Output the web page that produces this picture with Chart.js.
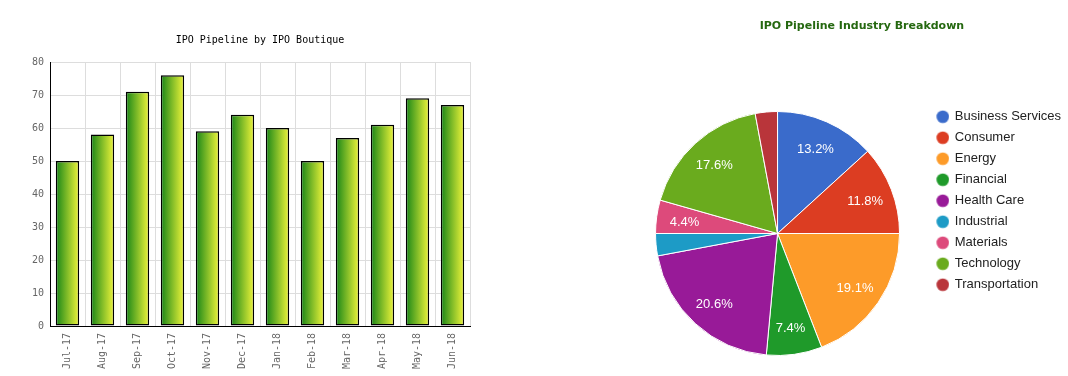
<!DOCTYPE html>
<html>
<head>
<meta charset="utf-8">
<script src="https://cdn.jsdelivr.net/npm/chart.js@4.4.1/dist/chart.umd.min.js"></script>
<style>
html, body { margin: 0; padding: 0; background: #fff; }
body { width: 1068px; height: 376px; overflow: hidden; position: relative; }
#barWrap { position: absolute; left: 0; top: 0; width: 520px; height: 376px; }
#pieWrap { position: absolute; left: 640px; top: 0; width: 431px; height: 376px; }
</style>
</head>
<body>
<div id="barWrap"><canvas id="bar"></canvas></div>
<div id="pieWrap"><canvas id="pie"></canvas></div>
<script>
// ---- data ----
const months = ['Jul-17', 'Aug-17', 'Sep-17', 'Oct-17', 'Nov-17', 'Dec-17', 'Jan-18', 'Feb-18', 'Mar-18', 'Apr-18', 'May-18', 'Jun-18'];
const pipelineCounts = [50, 58, 71, 76, 59, 64, 60, 50, 57, 61, 69, 67];
const yTickValues = [0, 10, 20, 30, 40, 50, 60, 70, 80];

const industries = ['Business Services', 'Consumer', 'Energy', 'Financial', 'Health Care', 'Industrial', 'Materials', 'Technology', 'Transportation'];
const industryCounts = [9, 8, 13, 5, 14, 2, 3, 12, 2];
const industryColors = ['#3a6bcb', '#dc3d22', '#fd9b29', '#1f9a2a', '#981a98', '#1d9bc6', '#dd4a7b', '#6aab1e', '#b9353a'];

// ---- styles ----
const monoFont = "'DejaVu Sans Mono', 'Liberation Mono', monospace";
const sansFont = "'Liberation Sans', Arial, sans-serif";
const barPct = 0.667;

function barGradient(ctx) {
  const chart = ctx.chart;
  const xs = chart.scales && chart.scales.x;
  if (!xs || ctx.dataIndex === undefined) return '#7ab82a';
  const cx = xs.getPixelForValue(ctx.dataIndex);
  const half = xs.width / months.length * barPct / 2;
  if (!isFinite(cx) || !isFinite(half) || half <= 0) return '#7ab82a';
  const g = chart.ctx.createLinearGradient(cx - half, 0, cx + half, 0);
  g.addColorStop(0, '#178517');
  g.addColorStop(1, '#f0f53a');
  return g;
}

try {
new Chart(document.getElementById('bar'), {
  type: 'bar',
  data: {
    labels: months,
    datasets: [{
      data: pipelineCounts,
      backgroundColor: barGradient,
      borderColor: '#000',
      borderWidth: 1.5,
      borderSkipped: false,
      barPercentage: barPct,
      categoryPercentage: 1
    }]
  },
  options: {
    responsive: true,
    maintainAspectRatio: false,
    animation: false,
    layout: { padding: { left: 0, right: 50, top: 0, bottom: 0 } },
    plugins: {
      legend: { display: false },
      tooltip: { enabled: false },
      title: {
        display: true,
        text: 'IPO Pipeline by IPO Boutique',
        fullSize: false,
        color: '#000',
        font: { family: monoFont, size: 10, weight: 'normal' },
        padding: { top: 34, bottom: 16 }
      }
    },
    scales: {
      x: {
        grid: { color: '#dddddd', drawTicks: false, offset: true },
        border: { color: '#000', width: 1 },
        ticks: { color: '#666', font: { family: monoFont, size: 10 }, maxRotation: 90, minRotation: 90, autoSkip: false, padding: 7 },
        afterFit: s => { s.height = 50; }
      },
      y: {
        min: 0, max: 80,
        grid: { color: '#dddddd', drawTicks: false },
        border: { color: '#000', width: 1 },
        ticks: { color: '#666', font: { family: monoFont, size: 10 }, padding: 6 },
        afterBuildTicks: s => { s.ticks = yTickValues.map(v => ({ value: v })); },
        afterFit: s => { s.width = 50; }
      }
    }
  }
});
} catch (e) { console.error(e); }

// ---- pie ----
function makeDot(color) {
  const c = document.createElement('canvas');
  c.width = 40; c.height = 14;
  const g = c.getContext('2d');
  g.fillStyle = color;
  g.beginPath();
  g.arc(33.5, 7, 6.3, 0, Math.PI * 2);
  g.fill();
  return c;
}
const dots = industryColors.map(makeDot);

const pieLabels = {
  id: 'pieLabels',
  afterDatasetsDraw(chart) {
    const meta = chart.getDatasetMeta(0);
    const total = industryCounts.reduce((a, b) => a + b, 0);
    const ctx = chart.ctx;
    ctx.save();
    ctx.fillStyle = '#fff';
    ctx.font = "13px " + sansFont;
    ctx.textAlign = 'center';
    ctx.textBaseline = 'alphabetic';
    meta.data.forEach((arc, i) => {
      const pct = industryCounts[i] / total * 100;
      if (pct < 4) return;
      const p = arc.getProps(['x', 'y', 'startAngle', 'endAngle', 'outerRadius'], true);
      const mid = (p.startAngle + p.endAngle) / 2;
      const r = p.outerRadius * 0.77;
      ctx.fillText(pct.toFixed(1) + '%', p.x + Math.cos(mid) * r, p.y + Math.sin(mid) * r + 5);
    });
    ctx.restore();
  }
};

new Chart(document.getElementById('pie'), {
  type: 'pie',
  data: {
    labels: industries,
    datasets: [{
      data: industryCounts,
      backgroundColor: industryColors,
      borderColor: '#fff',
      borderWidth: 1,
      radius: 122
    }]
  },
  options: {
    responsive: true,
    maintainAspectRatio: false,
    animation: false,
    layout: { padding: { left: 12.8, right: 0, top: 0, bottom: 11.2 } },
    plugins: {
      tooltip: { enabled: false },
      title: {
        display: true,
        text: 'IPO Pipeline Industry Breakdown',
        color: '#256810',
        font: { family: "'DejaVu Sans', sans-serif", size: 11, weight: 'bold' },
        padding: { top: 19.4, bottom: 69.6 }
      },
      legend: {
        position: 'right',
        align: 'start',
        fullSize: false,
        labels: {
          usePointStyle: true,
          pointStyleWidth: 38,
          padding: 8,
          color: '#222',
          font: { family: sansFont, size: 13 },
          generateLabels(chart) {
            return industries.map((name, i) => ({
              text: name,
              fillStyle: industryColors[i],
              strokeStyle: industryColors[i],
              lineWidth: 0,
              pointStyle: dots[i],
              hidden: !chart.getDataVisibility(i),
              index: i,
              fontColor: '#222'
            }));
          }
        }
      }
    }
  },
  plugins: [pieLabels]
});
</script>
</body>
</html>
